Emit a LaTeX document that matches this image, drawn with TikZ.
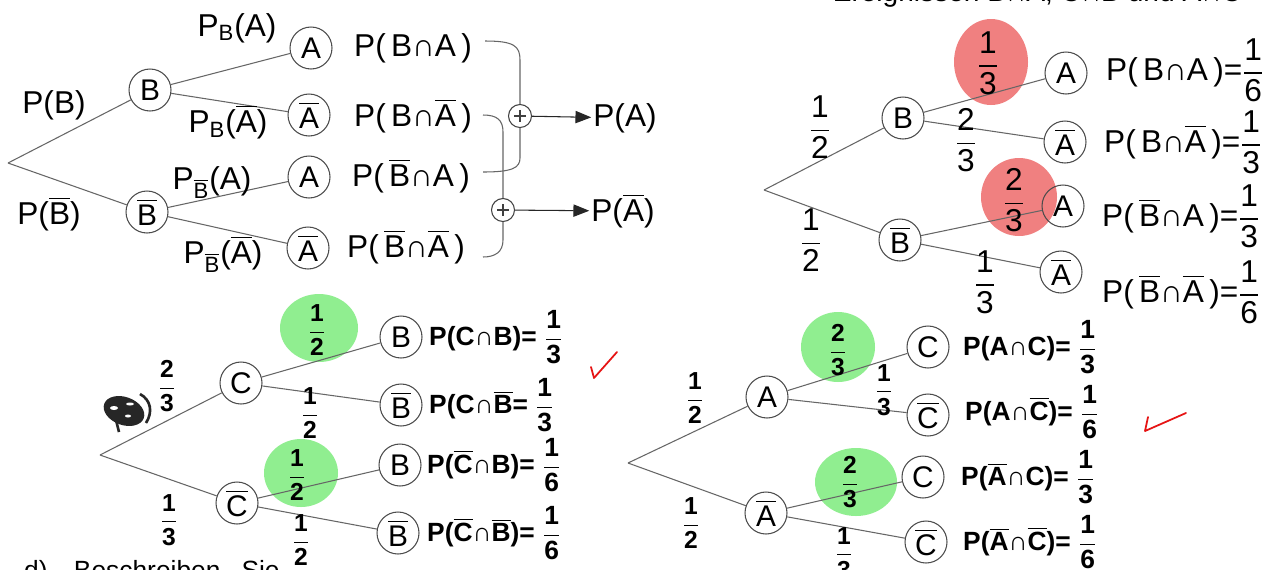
\documentclass[tikz,border=0pt]{standalone}
\usepackage{amsmath}
\usepackage{fontspec}
\setmainfont{Liberation Sans}
\usepackage{xcolor}
\usetikzlibrary{arrows.meta}
\definecolor{hlred}{RGB}{240,128,128}
\definecolor{hlgreen}{RGB}{144,238,144}
\definecolor{chkred}{RGB}{230,20,20}
\newcommand{\ov}[1]{\ensuremath{\overline{\mbox{#1}}}}
\newcommand{\fr}[2]{\ensuremath{\dfrac{\mbox{#1}}{\mbox{#2}}}}

\begin{document}
\begin{tikzpicture}[x=0.02cm,y=-0.02cm,>={Triangle[length=9pt,width=7pt]},
  ev/.style={circle,draw=black!70,line width=0.6pt,minimum size=0.84cm,inner sep=0pt,font=\fontsize{17}{19}\selectfont},
  br/.style={draw=black!60,line width=0.6pt},
  lbl/.style={font=\fontsize{18}{20}\selectfont},
  hw/.style={font=\fontsize{15}{17}\selectfont\bfseries},
  hwf/.style={font=\fontsize{14}{16}\selectfont\bfseries},
  sum/.style={circle,draw=black!75,line width=0.6pt,minimum size=0.46cm,inner sep=0pt,
    path picture={\draw[line width=1.6pt] (path picture bounding box.center) +(-6,0) -- +(6,0) +(0,-6) -- +(0,6);}},
  chk/.style={draw=chkred,line width=1pt,line cap=round,line join=round}]
  \useasboundingbox (0,0) rectangle (1284,569);
  \clip (0,0) rectangle (1284,569);
  \fill[white] (0,0) rectangle (1284,569);

  \node[font=\fontsize{16}{18}\selectfont,anchor=base east] (hd) at (1248,1) {Ereignissen B∩A, C∩B und A∩C};
  \node[font=\fontsize{15}{17}\selectfont,anchor=base west] (ft) at (18,579) {d)\quad Beschreiben\hspace{0.8em}Sie};

  \coordinate (r1) at (8,163);
  \node[ev] (b) at (150,90) {B};
  \node[ev] (bn) at (147,212) {\ov{B}};
  \node[ev] (ba) at (311,48) {A};
  \node[ev] (bab) at (309,115) {\ov{A}};
  \node[ev] (bna) at (309,177) {A};
  \node[ev] (bnab) at (308,248) {\ov{A}};
  \draw[br] (r1) -- (b);
  \draw[br] (r1) -- (bn);
  \draw[br] (b) -- (ba);
  \draw[br] (b) -- (bab);
  \draw[br] (bn) -- (bna);
  \draw[br] (bn) -- (bnab);
  \node[lbl] (lb) at (54,105) {P(B)};
  \node[lbl] (lbn) at (49,214) {P(\ov{B})};
  \node[lbl] (lba) at (237,28) {P\textsubscript{B}(A)};
  \node[lbl] (lbab) at (228,122) {P\textsubscript{B}(\ov{A})};
  \node[lbl] (lbna) at (212,183) {P\textsubscript{\ov{B}}(A)};
  \node[lbl] (lbnab) at (223,254) {P\textsubscript{\ov{B}}(\ov{A})};
  \node[lbl] (tba) at (413,48) {P(\,B∩A\,)};
  \node[lbl] (tbab) at (413,116) {P(\,B∩\ov{A}\,)};
  \node[lbl] (tbna) at (411,176) {P(\,\ov{B}∩A\,)};
  \node[lbl] (tbnab) at (406,247) {P(\,\ov{B}∩\ov{A}\,)};
  \node[sum] (s1) at (520,116) {};
  \node[sum] (s2) at (503,210) {};
  \coordinate (k1) at (485,41);
  \coordinate (k2) at (483,172);
  \coordinate (k3) at (483,115);
  \coordinate (k4) at (483,257);
  \draw[br] (k1) .. controls (514,41) and (520,46) .. (520,60) -- (s1.north);
  \draw[br] (s1.south) -- (520,158) .. controls (520,168) and (512,172) .. (k2);
  \draw[br] (k3) .. controls (497,115) and (503,120) .. (503,132) -- (s2.north);
  \draw[br] (s2.south) -- (503,240) .. controls (503,252) and (495,257) .. (k4);
  \node[lbl,inner sep=1pt] (pa) at (625,118) {P(A)};
  \node[lbl,inner sep=1pt] (pan) at (623,211) {P(\ov{A})};
  \draw[br,draw=black!85,->] (s1) -- (pa);
  \draw[br,draw=black!85,->] (s2) -- (pan);

  \fill[hlred] (991,62) ellipse [x radius=37, y radius=43];
  \fill[hlred] (1019,197) ellipse [x radius=38, y radius=39];
  \coordinate (r2) at (764,190);
  \node[ev] (b2) at (903,118) {B};
  \node[ev] (bn2) at (900,240) {\ov{B}};
  \node[ev] (a21) at (1066,73) {A};
  \node[ev] (a22) at (1065,142) {\ov{A}};
  \node[ev] (a23) at (1063,206) {A};
  \node[ev] (a24) at (1061,272) {\ov{A}};
  \draw[br] (r2) -- (b2);
  \draw[br] (r2) -- (bn2);
  \draw[br] (b2) -- (a21);
  \draw[br] (b2) -- (a22);
  \draw[br] (bn2) -- (a23);
  \draw[br] (bn2) -- (a24);
  \node[lbl] (q1) at (820,127) {\fr{1}{2}};
  \node[lbl] (q2) at (811,240) {\fr{1}{2}};
  \node[lbl] (q3) at (988,63) {\fr{1}{3}};
  \node[lbl] (q4) at (966,140) {\fr{2}{3}};
  \node[lbl] (q5) at (1014,200) {\fr{2}{3}};
  \node[lbl] (q6) at (985,282) {\fr{1}{3}};
  \node[lbl,anchor=west] (e1) at (1100,70) {P(\,B∩A\,)=\fr{1}{6}};
  \node[lbl,anchor=west] (e2) at (1098,142) {P(\,B∩\ov{A}\,)=\fr{1}{3}};
  \node[lbl,anchor=west] (e3) at (1096,216) {P(\,\ov{B}∩A\,)=\fr{1}{3}};
  \node[lbl,anchor=west] (e4) at (1096,292) {P(\,\ov{B}∩\ov{A}\,)=\fr{1}{6}};

  \fill[hlgreen] (319,328) ellipse [x radius=39, y radius=34];
  \fill[hlgreen] (301,473) ellipse [x radius=37, y radius=34];
  \coordinate (r3) at (100,455);
  \node[ev] (c) at (241,383) {C};
  \node[ev] (cn) at (237,503) {\ov{C}};
  \node[ev] (cb) at (401,337) {B};
  \node[ev] (cbb) at (401,405) {\ov{B}};
  \node[ev] (cnb) at (400,465) {B};
  \node[ev] (cnbb) at (398,533) {\ov{B}};
  \draw[br] (r3) -- (c);
  \draw[br] (r3) -- (cn);
  \draw[br] (c) -- (cb);
  \draw[br] (c) -- (cbb);
  \draw[br] (cn) -- (cnb);
  \draw[br] (cn) -- (cnbb);
  \fill[black!85,rotate around={-20:(124,411)}] (124,411) ellipse [x radius=21, y radius=14];
  \fill[white] (114,408) ellipse [x radius=4, y radius=2];
  \fill[white] (130,404) ellipse [x radius=4, y radius=1.5];
  \fill[white] (128,416) ellipse [x radius=3, y radius=1.5];
  \draw[black!85,line width=1.5pt] (140,394) .. controls (151,400) and (153,412) .. (146,423);
  \draw[black!85,line width=1.5pt] (116,420) -- (119,432);
  \node[hwf] (h1) at (167,386) {\fr{2}{3}};
  \node[hwf] (h2) at (169,520) {\fr{1}{3}};
  \node[hwf] (h3) at (317,330) {\fr{1}{2}};
  \node[hwf] (h4) at (310,413) {\fr{1}{2}};
  \node[hwf] (h5) at (297,475) {\fr{1}{2}};
  \node[hwf] (h6) at (301,540) {\fr{1}{2}};
  \node[hw,anchor=west] (g1) at (423,337) {P(C∩B)= \fr{1}{3}};
  \node[hw,anchor=west] (g2) at (423,405) {P(C∩\ov{B}= \fr{1}{3}};
  \node[hw,anchor=west] (g3) at (421,465) {P(\ov{C}∩B)= \fr{1}{6}};
  \node[hw,anchor=west] (g4) at (421,533) {P(\ov{C}∩\ov{B})= \fr{1}{6}};
  \draw[chk] (591,367) -- (594,378) -- (617,352);

  \fill[hlgreen] (838,347) ellipse [x radius=37, y radius=35];
  \fill[hlgreen] (856,482) ellipse [x radius=41, y radius=34];
  \coordinate (r4) at (628,463);
  \node[ev] (a) at (767,397) {A};
  \node[ev] (an) at (766,513) {\ov{A}};
  \node[ev] (ac) at (928,347) {C};
  \node[ev] (acn) at (928,415) {\ov{C}};
  \node[ev] (anc) at (923,477) {C};
  \node[ev] (ancn) at (926,542) {\ov{C}};
  \draw[br] (r4) -- (a);
  \draw[br] (r4) -- (an);
  \draw[br] (a) -- (ac);
  \draw[br] (a) -- (acn);
  \draw[br] (an) -- (anc);
  \draw[br] (an) -- (ancn);
  \node[hwf] (h7) at (695,398) {\fr{1}{2}};
  \node[hwf] (h8) at (691,523) {\fr{1}{2}};
  \node[hwf] (h9) at (838,350) {\fr{2}{3}};
  \node[hwf] (h10) at (884,390) {\fr{1}{3}};
  \node[hwf] (h11) at (850,482) {\fr{2}{3}};
  \node[hwf] (h12) at (844,553) {\fr{1}{3}};
  \node[hw,anchor=west] (g5) at (957,347) {P(A∩C)= \fr{1}{3}};
  \node[hw,anchor=west] (g6) at (959,412) {P(A∩\ov{C})= \fr{1}{6}};
  \node[hw,anchor=west] (g7) at (955,477) {P(\ov{A}∩C)= \fr{1}{3}};
  \node[hw,anchor=west] (g8) at (957,542) {P(\ov{A}∩\ov{C})= \fr{1}{6}};
  \draw[chk] (1148,417) -- (1145,431) -- (1186,413);
\end{tikzpicture}
\end{document}
